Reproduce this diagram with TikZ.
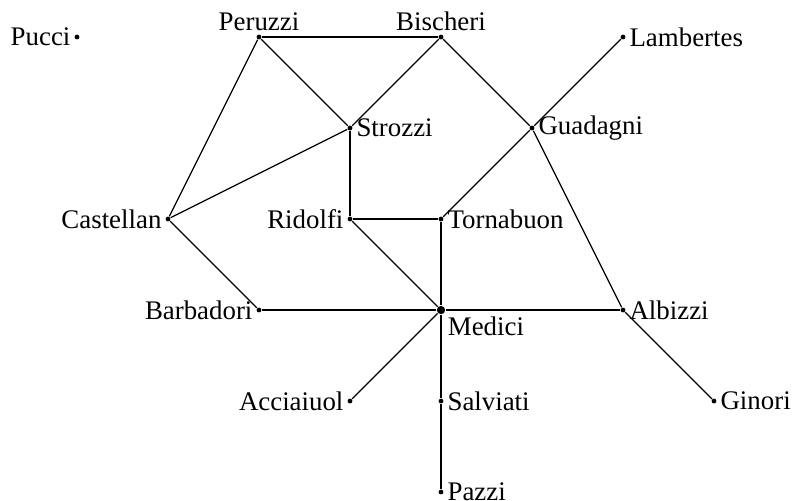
\documentclass[tikz,border=0pt]{standalone}
\usepackage{fontspec}
\setmainfont{Liberation Serif}
\usepackage{tikz}

\tikzset{
	vert/.style={circle,fill=black,inner sep=0pt,minimum size=1.5pt},
	bigvert/.style={circle,fill=black,inner sep=0pt,minimum size=2.6pt},
	every label/.style={font=\fontsize{8.4}{10}\selectfont,inner sep=0.9pt}
}

\begin{document}
\begin{tikzpicture}
	\useasboundingbox (-0.846,0.407) rectangle (7.879,-5.088);
	% families
	\node[vert,label=left:Pucci] (pucci) at (0,0) {};
	\node[vert,label=above:Peruzzi] (peruzzi) at (2,0) {};
	\node[vert,label=above:Bischeri] (bischeri) at (4,0) {};
	\node[vert,label=right:Lambertes] (lambertes) at (6,0) {};
	\node[vert,label=right:Strozzi] (strozzi) at (3,-1) {};
	\node[vert,label=right:Guadagni] (guadagni) at (5,-1) {};
	\node[vert,label=left:Castellan] (castellan) at (1,-2) {};
	\node[vert,label=left:Ridolfi] (ridolfi) at (3,-2) {};
	\node[vert,label=right:Tornabuon] (tornabuon) at (4,-2) {};
	\node[vert,label=left:Barbadori] (barbadori) at (2,-3) {};
	\node[bigvert,label=below right:Medici] (medici) at (4,-3) {};
	\node[vert,label=right:Albizzi] (albizzi) at (6,-3) {};
	\node[vert,label=left:Acciaiuol] (acciaiuol) at (3,-4) {};
	\node[vert,label=right:Salviati] (salviati) at (4,-4) {};
	\node[vert,label=right:Ginori] (ginori) at (7,-4) {};
	\node[vert,label=right:Pazzi] (pazzi) at (4,-5) {};
	% marriages
	\draw (peruzzi) -- (bischeri);
	\draw (peruzzi) -- (strozzi);
	\draw (peruzzi) -- (castellan);
	\draw (bischeri) -- (strozzi);
	\draw (bischeri) -- (guadagni);
	\draw (lambertes) -- (guadagni);
	\draw (strozzi) -- (castellan);
	\draw (strozzi) -- (ridolfi);
	\draw (guadagni) -- (tornabuon);
	\draw (guadagni) -- (albizzi);
	\draw (castellan) -- (barbadori);
	\draw (ridolfi) -- (tornabuon);
	\draw (ridolfi) -- (medici);
	\draw (tornabuon) -- (medici);
	\draw (barbadori) -- (medici);
	\draw (medici) -- (albizzi);
	\draw (medici) -- (acciaiuol);
	\draw (medici) -- (salviati);
	\draw (salviati) -- (pazzi);
	\draw (albizzi) -- (ginori);
\end{tikzpicture}
\end{document}
